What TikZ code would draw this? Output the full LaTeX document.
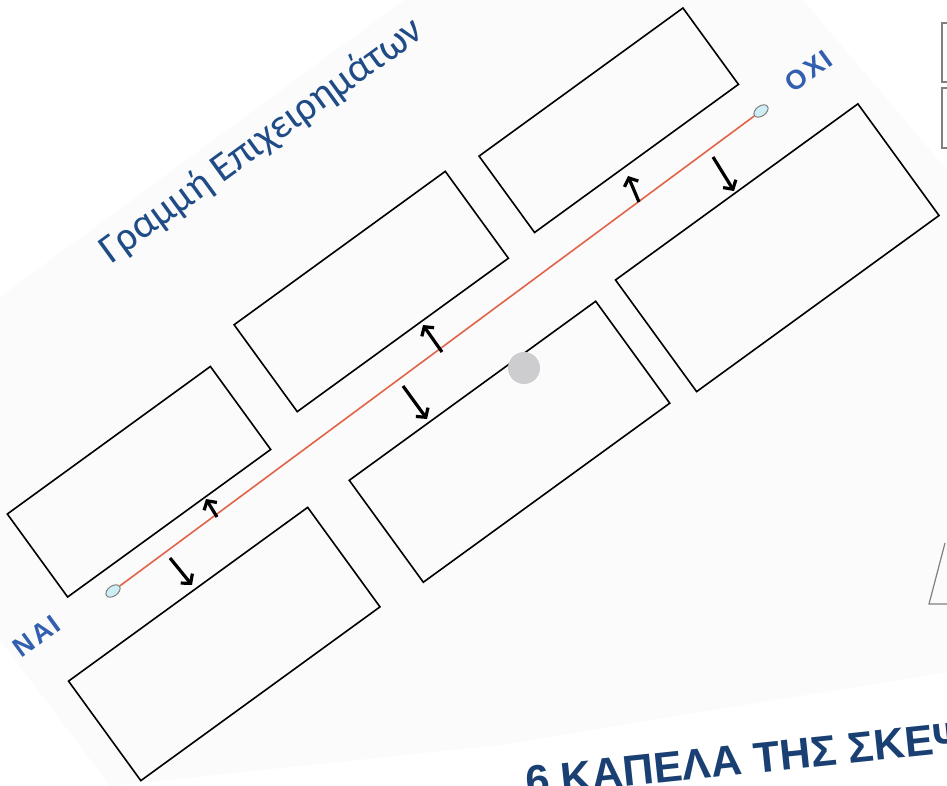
\documentclass[tikz,border=0pt]{standalone}
\usepackage{fontspec}
\setmainfont{Carlito}
\newfontfamily\hdfont{Carlito}
\newfontfamily\capfont[LetterSpace=8]{Liberation Sans Bold}
\newfontfamily\titlefont{Liberation Sans Bold}
\usetikzlibrary{arrows.meta,shapes.geometric}
\definecolor{txtblue}{RGB}{31,75,135}
\definecolor{hatblue}{RGB}{26,64,115}
\definecolor{lblblue}{RGB}{50,95,175}
\definecolor{redline}{RGB}{226,100,72}
\definecolor{tipfill}{RGB}{205,238,245}
\definecolor{pagegray}{RGB}{251,251,251}
\definecolor{dotgray}{RGB}{205,205,208}
\tikzset{
  argbox/.style 2 args={draw=black, line width=1.6pt, rotate=36, inner sep=0pt, outer sep=0pt,
    minimum width=#1, minimum height=#2, shape=rectangle},
  endtip/.style={ellipse, draw=gray, line width=1pt, fill=tipfill, rotate=36,
    minimum width=16pt, minimum height=10pt, inner sep=0pt},
  redl/.style={draw=redline, line width=1.6pt},
  pusharrow/.style={line width=3.2pt, -{Straight Barb[length=6.5pt,width=15pt]}},
  sidelabel/.style={text=lblblue, font=\capfont\fontsize{27}{29}\selectfont, rotate=36, inner sep=0pt},
  faintline/.style={draw=gray, line width=1.2pt}
}
\begin{document}
\begin{tikzpicture}[x=1pt,y=-1pt]
\useasboundingbox (0,0) rectangle (947,786);
\clip (0,0) rectangle (947,786);
% faint page
\fill[pagegray] (0,297) -- (404,0) -- (803,0) -- (947,170) -- (947,672) -- (500,745) -- (110,786) -- (0,640) -- cycle;
% boxes
\node[argbox={252pt}{94.4pt}]  (A) at (608.75,120.25) {};
\node[argbox={261pt}{107.4pt}] (B) at (371.25,291.5) {};
\node[argbox={251pt}{102.6pt}] (C) at (139,481.75) {};
\node[argbox={299.6pt}{138pt}] (D) at (777.25,247.75) {};
\node[argbox={304.6pt}{126pt}] (E) at (509.5,441.75) {};
\node[argbox={295.6pt}{123pt}] (F) at (224.25,644) {};
% argument line
\node[endtip] (nai) at (113,591) {};
\node[endtip] (oxi) at (761,111) {};
\draw[redl] (nai) -- (oxi);
% arrows
\coordinate (u1s) at (217,517); \coordinate (u1e) at (206,499);
\coordinate (d1s) at (170,558); \coordinate (d1e) at (192,585);
\coordinate (u2s) at (442,352); \coordinate (u2e) at (423,325);
\coordinate (d2s) at (403,386); \coordinate (d2e) at (427,419);
\coordinate (u3s) at (639,202); \coordinate (u3e) at (628,176);
\coordinate (d3s) at (713,157); \coordinate (d3e) at (734,191);
\draw[pusharrow] (u1s) -- (u1e);
\draw[pusharrow] (d1s) -- (d1e);
\draw[pusharrow] (u2s) -- (u2e);
\draw[pusharrow] (d2s) -- (d2e);
\draw[pusharrow] (u3s) -- (u3e);
\draw[pusharrow] (d3s) -- (d3e);
% gray dot
\node[circle, fill=dotgray, minimum size=32pt, inner sep=0pt] (dot) at (524,368) {};
% texts
\node[text=txtblue, font=\hdfont\fontsize{41}{46}\selectfont, rotate=36, inner sep=0pt] (title) at (262,141) {Γραμμή Επιχειρημάτων};
\node[sidelabel] (oxilbl) at (809,71) {ΟΧΙ};
\node[sidelabel] (nailbl) at (37,636) {ΝΑΙ};
\node[text=hatblue, font=\titlefont\fontsize{43}{48}\selectfont, rotate=6, anchor=base west, inner sep=0pt] (hats) at (527,797) {6 ΚΑΠΕΛΑ ΤΗΣ ΣΚΕΨΗΣ};
% partial shapes at right edge
\draw[faintline] (960,23) -- (942,23) -- (942,82) -- (960,82);
\draw[faintline] (960,88) -- (942,88) -- (942,148) -- (960,148);
\draw[faintline] (945,543) -- (929,604) -- (960,604);
\end{tikzpicture}
\end{document}
